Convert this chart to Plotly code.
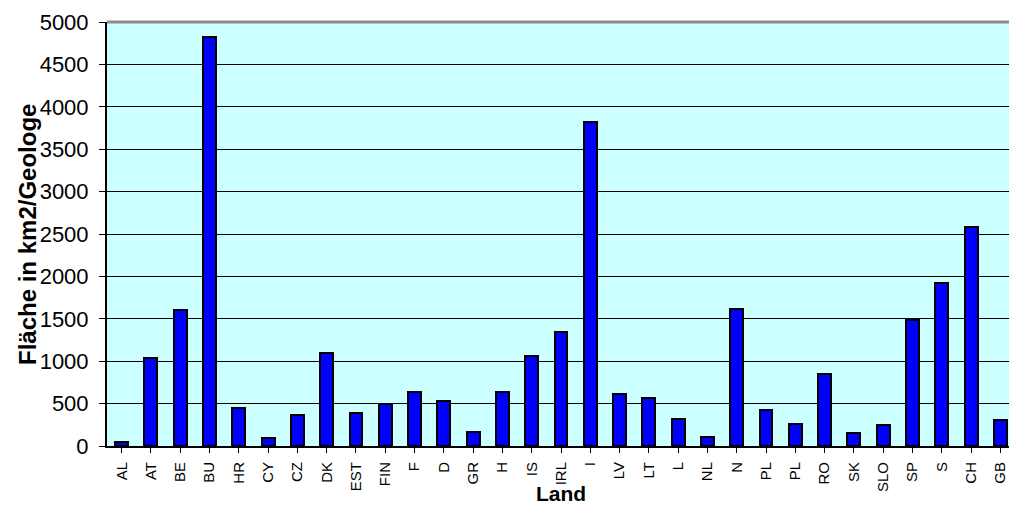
import plotly.graph_objects as go

# Fläche je Geologe, nach Land
laender = ["AL", "AT", "BE", "BU", "HR", "CY", "CZ", "DK", "EST", "FIN", "F", "D",
           "GR", "H", "IS", "IRL", "I", "LV", "LT", "L", "NL", "N", "PL", "PL",
           "RO", "SK", "SLO", "SP", "S", "CH", "GB"]
flaeche = [50, 1040, 1605, 4820, 445, 90, 360, 1095, 390, 495, 640, 530,
           160, 640, 1065, 1350, 3815, 610, 570, 320, 105, 1620, 420, 260,
           850, 155, 245, 1482, 1918, 2585, 310]
y_ticks = [0, 500, 1000, 1500, 2000, 2500, 3000, 3500, 4000, 4500, 5000]

FONT = "Arial, Liberation Sans, sans-serif"
idx = list(range(len(laender)))

fig = go.Figure(
    go.Bar(
        x=idx,
        y=flaeche,
        width=0.44,
        marker=dict(color="#0000FF", line=dict(color="#000000", width=2)),
    )
)

fig.update_layout(
    width=1009,
    height=507,
    margin=dict(l=107, r=0, t=22, b=61),
    paper_bgcolor="#FFFFFF",
    plot_bgcolor="#CCFFFF",
    showlegend=False,
    bargap=0,
)

fig.update_xaxes(
    range=[-0.5, 30.295],
    tickmode="array",
    tickvals=idx,
    ticktext=laender,
    tickangle=-90,
    tickson="boundaries",
    ticks="outside",
    ticklen=5,
    tickwidth=1,
    tickcolor="#000000",
    tickfont=dict(family=FONT, size=15, color="#000000"),
    ticklabelstandoff=3,
    ticklabeloverflow="allow",
    showgrid=False,
    showline=True,
    linecolor="#000000",
    linewidth=2,
    zeroline=False,
)

fig.update_yaxes(
    range=[0, 5000],
    tickmode="array",
    tickvals=y_ticks,
    ticks="outside",
    ticklen=6,
    tickwidth=1,
    tickcolor="#000000",
    tickfont=dict(family=FONT, size=22, color="#000000"),
    ticklabelstandoff=6,
    showgrid=True,
    gridcolor="#000000",
    gridwidth=1,
    showline=True,
    linecolor="#000000",
    linewidth=2,
    zeroline=False,
)

# grauer Rahmen oben an der Zeichenfläche
fig.add_shape(type="line", xref="paper", yref="paper", x0=0, x1=1, y0=1, y1=1,
              line=dict(color="#8C8C8C", width=3))

fig.add_annotation(text="<b>Land</b>", xref="paper", yref="paper", x=0.503, y=0,
                   yshift=-60, showarrow=False, xanchor="center", yanchor="bottom",
                   borderpad=0,
                   font=dict(family=FONT, size=21, color="#000000"))
fig.add_annotation(text="<b>Fläche in km2/Geologe</b>", xref="paper", yref="paper",
                   x=-0.0887, y=0.5, textangle=-90, showarrow=False,
                   xanchor="center", yanchor="middle",
                   font=dict(family=FONT, size=24, color="#000000"))

fig.write_html("out.html")
